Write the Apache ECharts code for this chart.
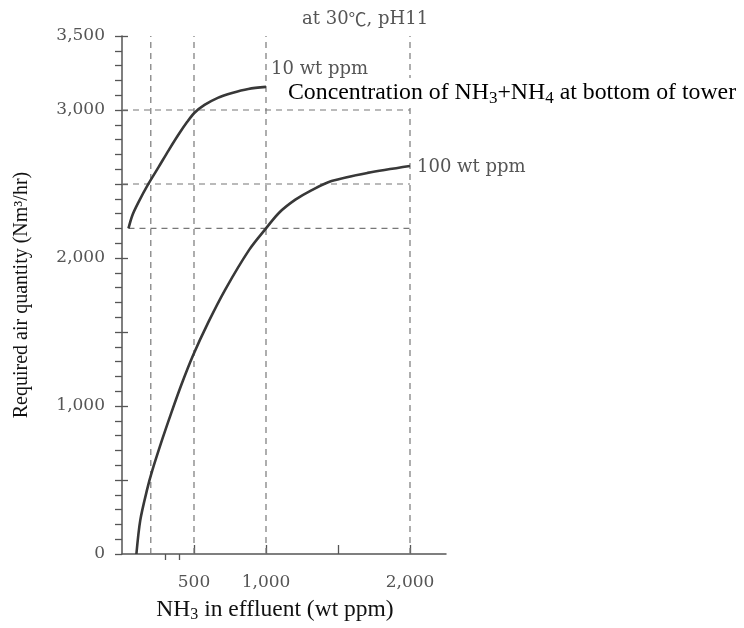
<!DOCTYPE html>
<html>
<head>
    <meta charset="UTF-8">
    <title>Required air quantity</title>
    <style>
        html, body { margin: 0; padding: 0; background: #fff; }
        #main { width: 744px; height: 628px; }
    </style>
</head>
<body>
<div id="main"></div>
<script src="https://cdn.jsdelivr.net/npm/echarts@6/dist/echarts.min.js"></script>
<script type="text/javascript">
    // 曲线数据 (wt ppm, Nm3/hr)
    var curve10X = [45, 71, 113, 184, 255, 326, 396, 453, 502, 573, 665, 764, 877, 1000];
    var curve10Y = [2200, 2286, 2374, 2502, 2616, 2731, 2839, 2920, 2980, 3034, 3082, 3115, 3142, 3156];
    var curve100X = [100, 127, 175, 210, 281, 340, 411, 493, 599, 717, 883, 1000, 1091, 1204, 1318, 1455, 1705, 2000];
    var curve100Y = [0, 229, 438, 563, 779, 947, 1140, 1341, 1565, 1787, 2055, 2200, 2306, 2394, 2459, 2520, 2575, 2622];

    // 辅助虚线
    var guideX = [200, 500, 1000, 2000];
    var guideY = [3000, 2500, 2200];
    var guideYFrom = [0, 0, 45];
    var guideYTo = [2000, 2000, 2000];

    // 刻度
    var xMajorTicks = [500, 1000, 1500, 2000];
    var xMinorTicks = [300, 400];
    var xLabels = [500, 1000, 2000];
    var yMajorTicks = [500, 1000, 1500, 2000, 2500, 3000, 3500];
    var yLabels = [0, 1000, 2000, 3000, 3500];

    var serif = '"Liberation Serif", "Times New Roman", serif';
    var grey = '"DejaVu Serif", serif';
    var fmt = function (v) { return Number(v).toLocaleString('en-US'); };

    function zip(xs, ys) {
        var out = [];
        for (let i = 0; i < xs.length; i++) out.push([xs[i], ys[i]]);
        return out;
    }

    var dashStyle = {color: '#777', width: 1.2, type: [6, 5]};
    var series = [];
    for (let i = 0; i < guideX.length; i++) {
        series.push({
            type: 'line', silent: true, symbol: 'none', z: 1,
            lineStyle: dashStyle,
            data: [[guideX[i], 0], [guideX[i], 3500]]
        });
    }
    for (let i = 0; i < guideY.length; i++) {
        series.push({
            type: 'line', silent: true, symbol: 'none', z: 1,
            lineStyle: dashStyle,
            data: [[guideYFrom[i], guideY[i]], [guideYTo[i], guideY[i]]]
        });
    }
    series.push({
        type: 'line', symbol: 'none', smooth: 0.3, z: 3,
        lineStyle: {color: '#383838', width: 2.6},
        data: zip(curve10X, curve10Y),
        endLabel: {
            show: true, formatter: '10 wt ppm', distance: 5, offset: [0, -18],
            fontFamily: grey, fontSize: 18, color: '#555'
        }
    });
    series.push({
        type: 'line', symbol: 'none', smooth: 0.3, z: 3,
        lineStyle: {color: '#383838', width: 2.6},
        data: zip(curve100X, curve100Y),
        endLabel: {
            show: true, formatter: '100 wt ppm', distance: 7, offset: [0, 1],
            fontFamily: grey, fontSize: 18, color: '#555'
        }
    });

    var axisLine = {show: true, lineStyle: {color: '#555', width: 1.5}};
    var myChart = echarts.init(document.getElementById('main'));
    var option = {
        animation: false,
        backgroundColor: '#fff',
        title: {
            text: '{a|at 30}{c|\u2103}{a|, pH11}', left: 297, top: 5,
            textStyle: {
                fontWeight: 'normal',
                rich: {
                    a: {fontFamily: grey, fontSize: 18, fontWeight: 'normal', color: '#555'},
                    c: {fontFamily: '"Noto Sans CJK JP"', fontSize: 18, fontWeight: 'normal', color: '#555'}
                }
            }
        },
        grid: {left: 122, top: 36, width: 324, height: 519},
        xAxis: [{
            type: 'value', min: 0, max: 2250, interval: 50,
            axisLine: axisLine,
            splitLine: {show: false},
            axisTick: {show: true, inside: true, length: 9, customValues: xMajorTicks,
                lineStyle: {color: '#555', width: 1.3}},
            axisLabel: {customValues: xLabels, formatter: fmt, margin: 20,
                fontFamily: grey, fontSize: 17, color: '#555'},
            name: '{n|NH}{s|3}{n| in effluent (wt ppm)}',
            nameLocation: 'middle', nameGap: 42,
            nameTextStyle: {
                padding: [0, 18, 0, 0],
                rich: {
                    n: {fontFamily: serif, fontSize: 23.5, color: '#111', lineHeight: 27},
                    s: {fontFamily: serif, fontSize: 16, color: '#111', lineHeight: 17, verticalAlign: 'bottom'}
                }
            }
        }, {
            type: 'value', min: 0, max: 2250, interval: 50,
            axisLine: {show: false}, splitLine: {show: false},
            axisTick: {show: true, inside: true, length: 6, customValues: xMinorTicks,
                lineStyle: {color: '#555', width: 1.3}},
            axisLabel: {show: false}
        }],
        yAxis: [{
            type: 'value', min: 0, max: 3500, interval: 100,
            axisLine: axisLine,
            splitLine: {show: false},
            axisTick: {show: true, length: 7, lineStyle: {color: '#555', width: 1.3}},
            axisLabel: {customValues: yLabels, formatter: fmt, margin: 17,
                fontFamily: grey, fontSize: 17, color: '#555'},
            name: 'Required air quantity (Nm\u00b3/hr)',
            nameLocation: 'middle', nameGap: 90,
            nameTextStyle: {fontFamily: serif, fontSize: 20, color: '#111'}
        }, {
            type: 'value', min: 0, max: 3500, interval: 100, position: 'left',
            axisLine: {show: false}, splitLine: {show: false},
            axisTick: {show: true, inside: true, length: 6, customValues: yMajorTicks,
                lineStyle: {color: '#555', width: 1.3}},
            axisLabel: {show: false}
        }],
        graphic: [{
            type: 'text', left: 285, top: 78, z: 100,
            style: {
                text: '{n|Concentration of NH}{s|3}{n|+NH}{s|4}{n| at bottom of tower}',
                backgroundColor: '#fff',
                padding: [1, 3, 1, 3],
                rich: {
                    n: {fontFamily: serif, fontSize: 23.8, fill: '#000', lineHeight: 28},
                    s: {fontFamily: serif, fontSize: 17, fill: '#000', lineHeight: 17, verticalAlign: 'bottom'}
                }
            }
        }],
        series: series
    };
    myChart.setOption(option);
</script>
</body>
</html>
